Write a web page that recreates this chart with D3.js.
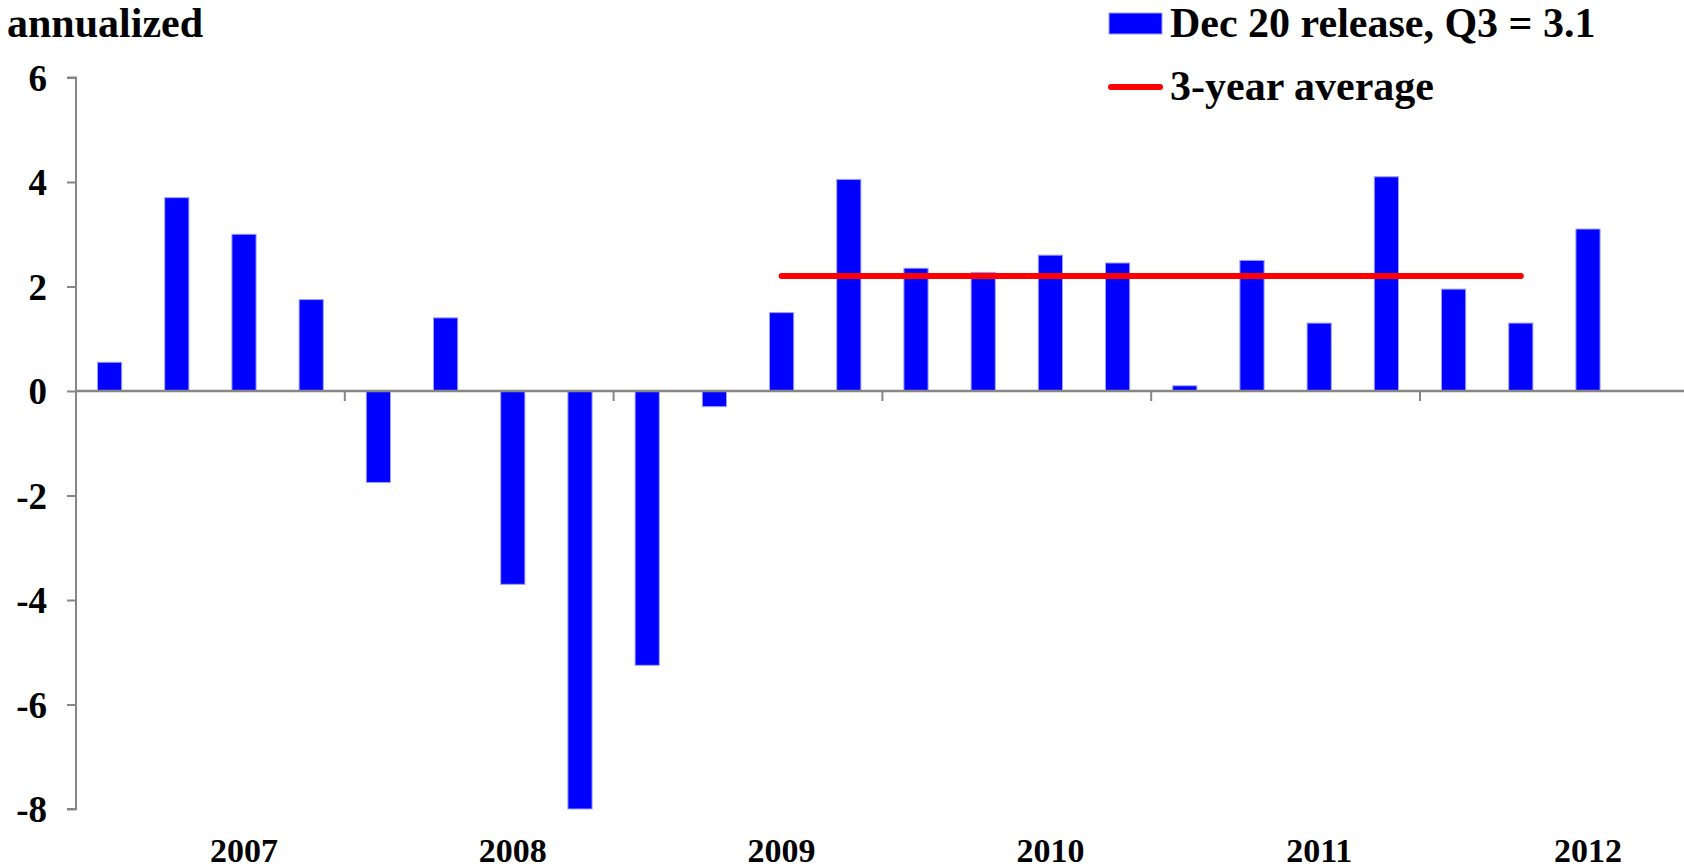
<!DOCTYPE html>
<html>
<head>
<meta charset="utf-8">
<script src="https://cdn.jsdelivr.net/npm/d3@7"></script>
<style>
    body { margin: 0; background: #fff; }
    text { font-family: "Liberation Serif", "Times New Roman", serif; font-weight: bold; fill: #000; }
</style>
</head>
<body>
<svg id="chart" width="1684" height="868"></svg>
<script>
// Real GDP growth, quarterly, annualized (Dec 20 release)
const quarters = [
    "2007Q1", "2007Q2", "2007Q3", "2007Q4",
    "2008Q1", "2008Q2", "2008Q3", "2008Q4",
    "2009Q1", "2009Q2", "2009Q3", "2009Q4",
    "2010Q1", "2010Q2", "2010Q3", "2010Q4",
    "2011Q1", "2011Q2", "2011Q3", "2011Q4",
    "2012Q1", "2012Q2", "2012Q3", "2012Q4"
];
const growth = [
    0.55, 3.7, 3.0, 1.75,
    -1.75, 1.4, -3.7, -8.9,
    -5.25, -0.3, 1.5, 4.05,
    2.35, 2.27, 2.6, 2.45,
    0.1, 2.5, 1.3, 4.1,
    1.95, 1.3, 3.1, null
];
// 3-year average, drawn from 2009Q3 to 2012Q2
const avgQuarters = ["2009Q3", "2012Q2"];
const avgValues = [2.2, 2.2];

const years = ["2007", "2008", "2009", "2010", "2011", "2012"];
const yTicks = [-8, -6, -4, -2, 0, 2, 4, 6];
const legendLabels = ["Dec 20 release, Q3 = 3.1", "3-year average"];

let svg = d3.select("#chart");

// Scales
let xScale = d3.scaleBand()
    .domain(quarters)
    .range([76, 76 + 24 * 67.2])
    .paddingInner(0.64)
    .paddingOuter(0.32);

let yScale = d3.scaleLinear()
    .domain([-8, 6])
    .range([809, 77.5])
    .clamp(true);

// Y axis (plain hyphen for negatives, like the original)
let yAxis = d3.axisLeft(yScale).tickValues(yTicks).tickSize(9).tickFormat(d => String(d));
let yG = svg.append("g").attr("transform", "translate(76,0)").call(yAxis)
    .attr("font-family", "Liberation Serif")
    .attr("font-size", 37);
yG.select(".domain").attr("stroke", "#868686").attr("stroke-width", 2).attr("d", "M-9," + yScale(6) + "H0V" + yScale(-8) + "H-9");
yG.selectAll(".tick line").attr("stroke", "#868686").attr("stroke-width", 2);
yG.selectAll(".tick text")
    .attr("x", -29)
    .attr("dy", "0.35em")
    .style("font-size", "37px")
    .style("font-family", "'Liberation Serif', serif");

// Bars
svg.append("g").selectAll("rect")
    .data(quarters.map((q, i) => ({ q: q, v: growth[i] })).filter(d => d.v !== null))
    .join("rect")
    .attr("x", d => xScale(d.q))
    .attr("width", xScale.bandwidth())
    .attr("y", d => Math.min(yScale(d.v), yScale(0)))
    .attr("height", d => Math.abs(yScale(d.v) - yScale(0)))
    .attr("fill", "#0000ff")
    .attr("stroke", "#a0a0ff")
    .attr("stroke-width", 1);

// X axis at zero
let step = xScale.step();
svg.append("line")
    .attr("x1", 76).attr("x2", 1684)
    .attr("y1", yScale(0)).attr("y2", yScale(0))
    .attr("stroke", "#868686").attr("stroke-width", 2.5);

// Year boundary ticks (at the first quarter of each year)
svg.append("g").selectAll("line")
    .data(years.slice(1))
    .join("line")
    .attr("x1", d => xScale(d + "Q1") - (step - xScale.bandwidth()) / 2)
    .attr("x2", d => xScale(d + "Q1") - (step - xScale.bandwidth()) / 2)
    .attr("y1", yScale(0))
    .attr("y2", yScale(0) + 10)
    .attr("stroke", "#868686").attr("stroke-width", 2);

// Year labels, under the third quarter of each year
svg.append("g").selectAll("text")
    .data(years)
    .join("text")
    .attr("x", d => xScale(d + "Q3") + xScale.bandwidth() / 2)
    .attr("y", 862)
    .attr("text-anchor", "middle")
    .style("font-size", "34px")
    .text(d => d);

// 3-year average line
let avgLine = d3.line()
    .x(d => xScale(d.q) + xScale.bandwidth() / 2)
    .y(d => yScale(d.v));
svg.append("path")
    .datum(avgQuarters.map((q, i) => ({ q: q, v: avgValues[i] })))
    .attr("d", avgLine)
    .attr("fill", "none")
    .attr("stroke", "#ff0000")
    .attr("stroke-width", 6)
    .attr("stroke-linecap", "round");

// Y axis title
svg.append("text")
    .attr("x", 7)
    .attr("y", 37)
    .style("font-size", "42px")
    .text("annualized");

// Legend
let legend = svg.append("g").attr("transform", "translate(1109,0)");
legend.append("rect")
    .attr("x", 0).attr("y", 13)
    .attr("width", 53).attr("height", 21)
    .attr("fill", "#0000ff")
    .attr("stroke", "#a0a0ff").attr("stroke-width", 1);
legend.append("line")
    .attr("x1", 2).attr("x2", 51)
    .attr("y1", 87).attr("y2", 87)
    .attr("stroke", "#ff0000").attr("stroke-width", 6)
    .attr("stroke-linecap", "round");
legend.selectAll("text.lbl")
    .data(legendLabels)
    .join("text")
    .attr("class", "lbl")
    .attr("x", 61)
    .attr("y", (d, i) => 37 + i * 63)
    .style("font-size", "42px")
    .text(d => d);
</script>
</body>
</html>
